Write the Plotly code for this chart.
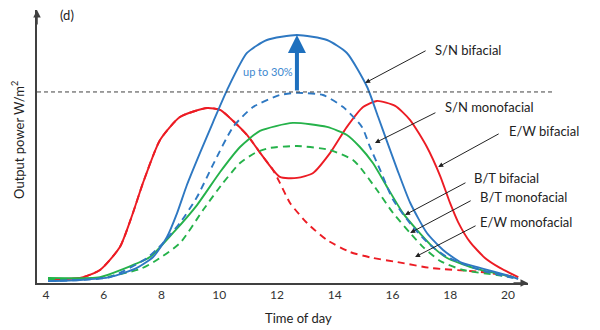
import plotly.graph_objects as go

# ---- data (hour of day, output power in % of S/N monofacial peak) ----
sn_bi_t = [4.07, 5.18, 6.22, 7.15, 7.71, 8.19, 8.54, 8.88, 9.33, 9.78, 10.27, 10.96, 11.65, 12.69,
           13.73, 14.42, 15.12, 15.50, 15.81, 16.16, 16.61, 17.19, 17.75, 18.34, 19.03, 20.17, 20.35]
sn_bi_v = [1.0, 1.6, 3.1, 7.9, 13.6, 24.1, 36.6, 51.3, 68.0, 84.0, 101.0, 120.4, 127.2, 129.8,
           127.2, 120.4, 102.6, 87.0, 74.0, 59.5, 42.0, 26.2, 17.3, 11.0, 7.9, 3.1, 2.1]

sn_mono_t = [4.07, 5.18, 6.22, 7.50, 8.05, 8.64, 9.23, 9.78, 10.48, 11.17, 12.10, 12.69, 13.59,
             14.29, 14.94, 15.22, 15.57, 16.02, 16.71, 17.30, 17.89, 19.03, 20.17]
sn_mono_v = [1.0, 1.6, 3.1, 13.1, 20.9, 31.4, 45.0, 61.8, 81.7, 92.1, 98.4, 99.5, 98.4,
             92.1, 81.7, 71.2, 59.2, 43.5, 29.3, 19.9, 13.6, 6.8, 2.6]

bt_bi_t = [4.07, 5.87, 6.67, 7.60, 8.40, 9.23, 10.03, 10.72, 11.41, 12.55, 13.73, 14.42, 14.87,
           15.32, 15.81, 16.36, 16.85, 17.40, 17.89, 18.79, 20.17]
bt_bi_v = [2.6, 3.1, 7.3, 13.6, 26.2, 40.8, 58.1, 71.2, 79.6, 83.8, 81.7, 77.5, 71.2,
           62.8, 50.3, 36.6, 27.7, 18.8, 13.1, 7.9, 3.1]

bt_mono_t = [4.07, 5.87, 7.26, 7.84, 8.64, 9.44, 10.10, 10.72, 11.24, 11.76, 12.69, 13.84, 14.63,
             14.87, 15.46, 16.02, 16.61, 17.06, 17.65, 18.44, 19.62, 20.35]
bt_mono_v = [2.1, 2.6, 7.3, 12.0, 20.9, 38.2, 51.8, 62.8, 68.1, 70.7, 71.7, 69.6, 64.4,
             60.7, 48.7, 36.6, 26.2, 18.8, 11.5, 6.8, 4.2, 2.6]

ew_bi_t = [4.07, 5.18, 5.87, 6.56, 7.01, 7.36, 7.95, 8.64, 9.58, 10.03, 10.37, 10.96, 11.52, 12.10,
           12.69, 13.25, 13.84, 14.42, 14.98, 15.46, 16.09, 16.61, 17.19, 17.65, 17.99, 18.27,
           18.68, 19.20, 19.72, 20.35]
ew_bi_v = [2.1, 2.6, 6.8, 18.8, 36.6, 52.4, 74.9, 86.9, 91.6, 90.6, 86.4, 77.5, 66.0, 55.5,
           55.0, 57.6, 68.1, 81.7, 92.1, 95.3, 92.7, 85.3, 71.2, 56.0, 41.9, 31.9,
           21.5, 13.1, 7.9, 3.1]

ew_mono_t = [4.07, 5.18, 5.87, 6.56, 7.01, 7.36, 7.95, 8.64, 9.58, 10.03, 10.37, 10.96, 11.52,
             11.86, 12.10, 12.45, 13.04, 13.73, 14.53, 15.32, 16.16, 17.30, 19.03, 20.35]
ew_mono_v = [2.1, 2.6, 6.8, 18.8, 36.6, 52.4, 74.9, 86.9, 91.6, 90.6, 86.4, 77.5, 66.0,
             59.2, 52.4, 41.9, 31.4, 22.5, 16.2, 13.1, 11.0, 7.9, 5.8, 3.1]

x_ticks = [4, 6, 8, 10, 12, 14, 16, 18, 20]
ref_level = 100.0

labels = ["S/N bifacial", "S/N monofacial", "E/W bifacial", "B/T bifacial", "B/T monofacial", "E/W monofacial"]
label_x = [17.40, 17.75, 19.97, 18.75, 18.96, 18.96]
label_y = [122.0, 92.1, 79.6, 55.0, 45.0, 31.9]
tip_x = [15.05, 15.39, 17.58, 16.43, 16.61, 16.78]
tip_y = [104.7, 73.3, 60.7, 35.6, 26.2, 13.6]
tail_dx = [62, 62, 62, 62, 62, 62]
tail_dy = [-33, -31, -34, -33, -33, -32]

RED = "#EC1C24"
BLUE = "#2E78C2"
GREEN = "#25B24A"
FONT = "Lato"

fig = go.Figure()

def add(t, v, color, dash=None):
    fig.add_trace(go.Scatter(x=t, y=v, mode="lines",
                             line=dict(color=color, width=1.9, shape="spline", smoothing=0.6,
                                       dash=dash if dash else "solid"),
                             hoverinfo="skip", showlegend=False))

add(ew_bi_t, ew_bi_v, RED)
add(ew_mono_t, ew_mono_v, RED, "7px,5px")
add(bt_mono_t, bt_mono_v, GREEN, "7px,5px")
add(bt_bi_t, bt_bi_v, GREEN)
add(sn_mono_t, sn_mono_v, BLUE, "7px,5px")
add(sn_bi_t, sn_bi_v, BLUE)

# reference dashed line
fig.add_shape(type="line", xref="paper", yref="y", x0=0, x1=1.055, y0=ref_level, y1=ref_level,
              line=dict(color="#404040", width=1, dash="4px,3px"))

ann = []
# axis arrows
ann.append(dict(xref="paper", yref="paper", x=0, y=1, ax=0, ay=16, text="", showarrow=True,
                arrowhead=2, arrowsize=1, arrowwidth=1.5, arrowcolor="#404040"))
ann.append(dict(xref="paper", yref="paper", x=1, y=0, ax=-16, ay=0, text="", showarrow=True,
                arrowhead=2, arrowsize=1, arrowwidth=1.5, arrowcolor="#404040"))
# big blue arrow
peak_i = sn_bi_v.index(max(sn_bi_v))
ann.append(dict(xref="x", yref="y", axref="x", ayref="y", x=sn_bi_t[peak_i], y=max(sn_bi_v),
                ax=sn_bi_t[peak_i], ay=ref_level, text="", showarrow=True,
                arrowhead=2, arrowsize=0.9, arrowwidth=4, arrowcolor="#1E70BE"))
ann.append(dict(xref="x", yref="y", x=11.69, y=110.5, text="up to 30%", showarrow=False,
                font=dict(family=FONT, size=11, color="#3C88CF")))
# labelled arrows
for i, lab in enumerate(labels):
    ann.append(dict(xref="x", yref="y", x=tip_x[i], y=tip_y[i], ax=tail_dx[i], ay=tail_dy[i],
                    text="", showarrow=True, arrowhead=2, arrowsize=1, arrowwidth=1,
                    arrowcolor="#222222"))
    ann.append(dict(xref="x", yref="y", x=label_x[i], y=label_y[i], text=lab, showarrow=False,
                    xanchor="left", yanchor="middle",
                    font=dict(family=FONT, size=13, color="#222222")))
# titles
ann.append(dict(xref="paper", yref="y", x=0.043, y=140.3, text="(d)", showarrow=False,
                font=dict(family=FONT, size=13, color="#222222")))
ann.append(dict(xref="x", yref="paper", x=12.76, y=-0.128, text="Time of day", showarrow=False,
                yanchor="middle", font=dict(family=FONT, size=13, color="#222222")))
ann.append(dict(xref="paper", yref="y", x=-0.0387, y=74.9, text="Output power W/m<sup>2</sup>",
                showarrow=False, textangle=-90, xanchor="center", yanchor="middle",
                font=dict(family=FONT, size=13, color="#222222")))

fig.update_layout(
    width=600, height=330,
    margin=dict(l=37, r=72, t=10, b=47),
    paper_bgcolor="white", plot_bgcolor="white",
    annotations=ann,
    xaxis=dict(range=[3.69, 20.69], tickvals=x_ticks, ticktext=[str(v) for v in x_ticks],
               showgrid=False, zeroline=False, showline=True, linecolor="#404040", linewidth=1.5,
               ticks="", tickfont=dict(family=FONT, size=12, color="#333333")),
    yaxis=dict(range=[0, 142.9], showgrid=False, zeroline=False, showline=True,
               linecolor="#404040", linewidth=1.5, showticklabels=False, ticks=""),
)

fig.write_html("out.html")
